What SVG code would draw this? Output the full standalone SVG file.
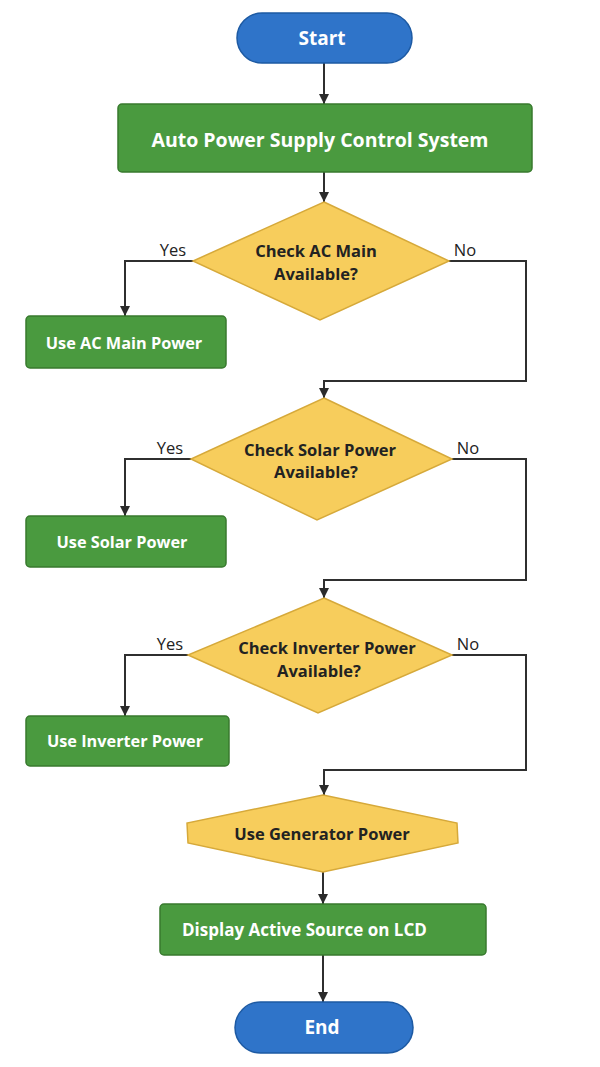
<svg xmlns="http://www.w3.org/2000/svg" width="600" height="1067" viewBox="0 0 600 1067">
<defs>
<marker id="arr" viewBox="0 0 10 10" refX="10" refY="5" markerWidth="10" markerHeight="10" markerUnits="userSpaceOnUse" orient="auto">
<path d="M0,0 L10,5 L0,10 z" fill="#2b2b2b"/>
</marker>
<style>
.term{fill:#2f74c9;stroke:#1d5aa3;stroke-width:1.5}
.proc{fill:#4a9a3f;stroke:#387a2e;stroke-width:1.5}
.dec{fill:#f7cd5c;stroke:#d6a93a;stroke-width:1.5}
.tw{font-family:"Open Sans","Liberation Sans",sans-serif;font-weight:bold;fill:#ffffff;text-anchor:middle;dominant-baseline:central}
.td{font-family:"Open Sans","Liberation Sans",sans-serif;font-weight:bold;fill:#222222;text-anchor:middle;dominant-baseline:central;font-size:16.5px}
.lbl{font-family:"Open Sans","Liberation Sans",sans-serif;fill:#222222;font-size:16.5px;text-anchor:middle;dominant-baseline:central}
.c{fill:none;stroke:#2f2f2f;stroke-width:2;marker-end:url(#arr)}
</style>
</defs>
<rect width="600" height="1067" fill="#ffffff"/>
<g id="connectors">
<path class="c" d="M324,63 V104"/>
<path class="c" d="M324,172 V202"/>
<path class="c" d="M193,261 H125 V316"/>
<path class="c" d="M449,261 H526 V381 H324 V398"/>
<path class="c" d="M191,459 H125 V516"/>
<path class="c" d="M452,459 H526 V580 H324 V598"/>
<path class="c" d="M188,655 H125 V716"/>
<path class="c" d="M452,655 H526 V770 H324 V795"/>
<path class="c" d="M323,872 V904"/>
<path class="c" d="M323,955 V1002"/>
<text class="lbl" x="173" y="249">Yes</text>
<text class="lbl" x="465" y="249">No</text>
<text class="lbl" x="170" y="447">Yes</text>
<text class="lbl" x="468" y="447">No</text>
<text class="lbl" x="170" y="643">Yes</text>
<text class="lbl" x="468" y="643">No</text>
</g>
<g id="start">
<rect class="term" x="237" y="13" width="175" height="50" rx="25"/>
<text class="tw" x="322" y="38" font-size="19">Start</text>
</g>
<g id="system">
<rect class="proc" x="118" y="104" width="414" height="68" rx="4"/>
<text class="tw" x="320" y="139" font-size="19.5">Auto Power Supply Control System</text>
</g>
<g id="checkAC">
<polygon class="dec" points="324,202 449,261 320,320 193,261"/>
<text class="td" x="316" y="250">Check AC Main</text>
<text class="td" x="316" y="273">Available?</text>
</g>
<g id="useAC">
<rect class="proc" x="26" y="316" width="200" height="52" rx="4"/>
<text class="tw" x="124" y="343" font-size="16.3">Use AC Main Power</text>
</g>
<g id="checkSolar">
<polygon class="dec" points="324,398 452,459 317,520 191,459"/>
<text class="td" x="320" y="449">Check Solar Power</text>
<text class="td" x="316" y="471">Available?</text>
</g>
<g id="useSolar">
<rect class="proc" x="26" y="516" width="200" height="51" rx="4"/>
<text class="tw" x="122" y="542" font-size="16.3">Use Solar Power</text>
</g>
<g id="checkInverter">
<polygon class="dec" points="324,598 452,655 318,713 188,655"/>
<text class="td" x="327" y="647">Check Inverter Power</text>
<text class="td" x="319" y="670">Available?</text>
</g>
<g id="useInverter">
<rect class="proc" x="26" y="716" width="203" height="50" rx="4"/>
<text class="tw" x="125" y="741" font-size="16.3">Use Inverter Power</text>
</g>
<g id="generator">
<polygon class="dec" points="323,795 457,823 458,843 323,872 188,843 187,823"/>
<text class="td" x="322" y="833">Use Generator Power</text>
</g>
<g id="display">
<rect class="proc" x="160" y="904" width="326" height="51" rx="4"/>
<text class="tw" x="182" y="929" font-size="17" style="text-anchor:start">Display Active Source on LCD</text>
</g>
<g id="end">
<rect class="term" x="235" y="1002" width="178" height="51" rx="25.5"/>
<text class="tw" x="322" y="1027" font-size="19">End</text>
</g>
</svg>
